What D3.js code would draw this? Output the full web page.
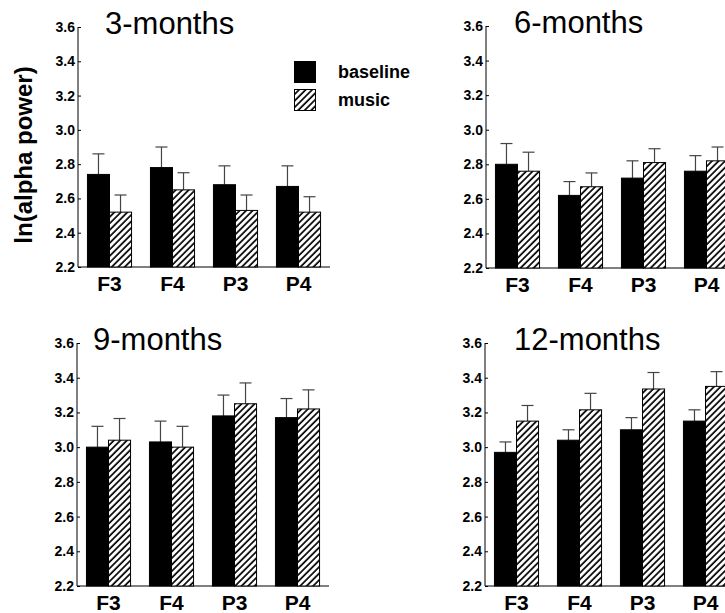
<!DOCTYPE html>
<html>
<head>
<meta charset="utf-8">
<script src="https://cdn.jsdelivr.net/npm/d3@7"></script>
<style>
  body { margin: 0; background: #fff; }
</style>
</head>
<body>
<div id="vis"></div>
<script>
/* data */
let ages = ["3-months", "6-months", "9-months", "12-months"];
let sites = ["F3", "F4", "P3", "P4"];
let yTicks = [2.2, 2.4, 2.6, 2.8, 3.0, 3.2, 3.4, 3.6];
let legendLabels = ["baseline", "music"];

/* mean ln(alpha power), one row per age */
let baselineMean = [
  [2.74, 2.78, 2.68, 2.67],
  [2.80, 2.62, 2.72, 2.76],
  [3.00, 3.03, 3.18, 3.17],
  [2.97, 3.04, 3.10, 3.15]];
let baselineErr = [
  [0.12, 0.12, 0.11, 0.12],
  [0.12, 0.08, 0.10, 0.09],
  [0.12, 0.12, 0.12, 0.11],
  [0.06, 0.06, 0.07, 0.065]];
let musicMean = [
  [2.52, 2.65, 2.53, 2.52],
  [2.76, 2.67, 2.81, 2.82],
  [3.04, 3.00, 3.25, 3.22],
  [3.15, 3.215, 3.335, 3.35]];
let musicErr = [
  [0.10, 0.10, 0.09, 0.09],
  [0.11, 0.08, 0.08, 0.08],
  [0.125, 0.12, 0.12, 0.11],
  [0.09, 0.095, 0.095, 0.085]];

/* geometry */
let width = 725;
let height = 613;
let font = "'Liberation Sans', Arial, sans-serif";
let panels = [
  { x0: 78,  y0: 27,  y1: 267, titleX: 105 },
  { x0: 486, y0: 26,  y1: 268, titleX: 514 },
  { x0: 77,  y0: 343, y1: 586, titleX: 93 },
  { x0: 485, y0: 343, y1: 586, titleX: 514 }];
let plotW = 252;

let svg = d3.select("#vis").append("svg")
  .attr("width", width)
  .attr("height", height)
  .style("background-color", "#fff");

/* hatch pattern for the music bars */
svg.append("defs").append("pattern")
  .attr("id", "hatch")
  .attr("patternUnits", "userSpaceOnUse")
  .attr("width", 4.6)
  .attr("height", 4.6)
  .attr("patternTransform", "rotate(45)")
  .call(p => p.append("rect")
    .attr("width", 4.6).attr("height", 4.6).attr("fill", "#fff"))
  .append("line")
    .attr("x1", 1).attr("x2", 1)
    .attr("y1", 0).attr("y2", 4.6)
    .attr("stroke", "#000")
    .attr("stroke-width", 1.7);

ages.forEach((age, k) => {
  let p = panels[k];
  let g = svg.append("g");

  let y = d3.scaleLinear().domain([2.2, 3.6]).range([p.y1, p.y0]);
  let x = d3.scaleBand().domain(sites)
    .range([p.x0, p.x0 + plotW])
    .paddingInner(0.3)
    .paddingOuter(0.15);
  let sub = d3.scaleBand().domain(legendLabels).range([0, x.bandwidth()]);

  /* y axis: small inward ticks, bold labels */
  let yAxis = g.append("g")
    .attr("transform", "translate(" + p.x0 + ",0)")
    .call(d3.axisRight(y).tickValues(yTicks).tickSize(3).tickFormat(d3.format(".1f")));
  yAxis.select(".domain").attr("d", "M0," + p.y0 + "V" + p.y1);
  yAxis.selectAll("text")
    .attr("x", -3)
    .attr("text-anchor", "end")
    .attr("font-family", font)
    .attr("font-weight", "bold")
    .attr("font-size", 14)
    .attr("fill", "#000");

  /* x axis */
  let xAxis = g.append("g")
    .attr("transform", "translate(0," + p.y1 + ")")
    .call(d3.axisBottom(x).tickSize(0).tickPadding(9));
  xAxis.select(".domain").attr("d", "M" + p.x0 + ",0H" + (p.x0 + plotW));
  xAxis.selectAll("text")
    .attr("font-family", font)
    .attr("font-weight", "bold")
    .attr("font-size", 21)
    .attr("fill", "#000");

  /* bars + upper error bars */
  let rows = sites.map((s, i) => [
    { site: s, key: "baseline", v: baselineMean[k][i], e: baselineErr[k][i] },
    { site: s, key: "music", v: musicMean[k][i], e: musicErr[k][i] }]).flat();

  let bars = g.selectAll(".bar").data(rows).enter()
    .append("g").classed("bar", true);
  bars.append("line")
    .attr("x1", d => x(d.site) + sub(d.key) + sub.bandwidth() / 2)
    .attr("x2", d => x(d.site) + sub(d.key) + sub.bandwidth() / 2)
    .attr("y1", d => y(d.v))
    .attr("y2", d => y(d.v + d.e))
    .attr("stroke", "#444")
    .attr("stroke-width", 1.2);
  bars.append("line")
    .attr("x1", d => x(d.site) + sub(d.key) + sub.bandwidth() / 2 - 6)
    .attr("x2", d => x(d.site) + sub(d.key) + sub.bandwidth() / 2 + 6)
    .attr("y1", d => y(d.v + d.e))
    .attr("y2", d => y(d.v + d.e))
    .attr("stroke", "#444")
    .attr("stroke-width", 1.2);
  bars.append("rect")
    .attr("x", d => x(d.site) + sub(d.key))
    .attr("y", d => y(d.v))
    .attr("width", sub.bandwidth())
    .attr("height", d => y(2.2) - y(d.v))
    .attr("fill", d => d.key === "music" ? "url(#hatch)" : "#000")
    .attr("stroke", "#000")
    .attr("stroke-width", 1);

  /* title */
  g.append("text")
    .attr("x", p.titleX)
    .attr("y", p.y0 + 7)
    .attr("font-family", font)
    .attr("font-size", 31)
    .attr("fill", "#000")
    .text(age);
});

/* y label */
svg.append("text")
  .attr("transform", "translate(32,155) rotate(-90)")
  .attr("text-anchor", "middle")
  .attr("font-family", font)
  .attr("font-weight", "bold")
  .attr("font-size", 24)
  .text("ln(alpha power)");

/* legend */
let leg = svg.append("g").attr("transform", "translate(294,61)");
legendLabels.forEach((l, i) => {
  leg.append("rect")
    .attr("x", 0.5)
    .attr("y", i * 28 + 0.5)
    .attr("width", 21)
    .attr("height", 21)
    .attr("fill", i === 0 ? "#000" : "url(#hatch)")
    .attr("stroke", "#000");
  leg.append("text")
    .attr("x", 44)
    .attr("y", i * 28 + 17)
    .attr("font-family", font)
    .attr("font-weight", "bold")
    .attr("font-size", 18)
    .text(l);
});
</script>
</body>
</html>
